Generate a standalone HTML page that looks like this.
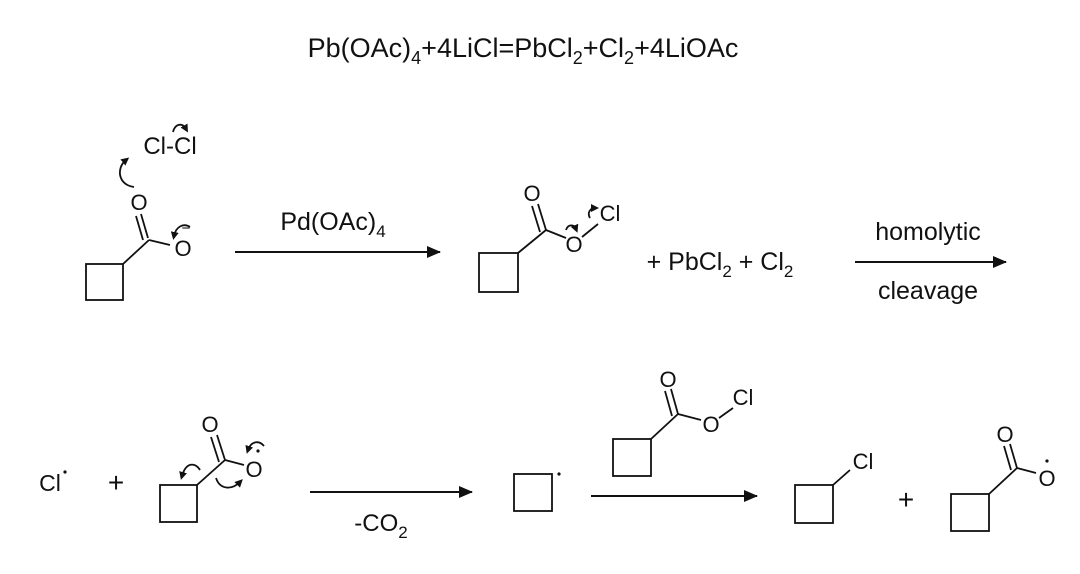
<!DOCTYPE html>
<html><head><style>
html,body{margin:0;padding:0;background:#fff;}
svg{display:block;}
text{font-family:"Liberation Sans",sans-serif;fill:#111;}
</style></head><body>
<svg width="1080" height="574" viewBox="0 0 1080 574" xmlns="http://www.w3.org/2000/svg">
<defs>
<marker id="ah" markerWidth="14" markerHeight="12" refX="13" refY="6" orient="auto" markerUnits="userSpaceOnUse">
<path d="M0,0 L14,6 L0,12 Z" fill="#111"/></marker>
<marker id="ch" markerWidth="8" markerHeight="8" refX="4" refY="4" orient="auto" markerUnits="userSpaceOnUse">
<path d="M0,0 L8,4 L0,8 Z" fill="#111"/></marker>
</defs>
<text x="523" y="57" font-size="27" text-anchor="middle">Pb(OAc)<tspan font-size="18" dy="7">4</tspan><tspan dy="-7">+4LiCl=PbCl</tspan><tspan font-size="18" dy="7">2</tspan><tspan dy="-7">+Cl</tspan><tspan font-size="18" dy="7">2</tspan><tspan dy="-7">+4LiOAc</tspan></text>

<!-- Molecule 1 -->
<g stroke="#111" stroke-width="1.8" fill="none">
<rect x="86" y="264" width="37" height="36"/>
<line x1="123" y1="264" x2="149" y2="240"/>
<line x1="148" y1="238" x2="141" y2="214"/>
<line x1="143" y1="240" x2="136" y2="216"/>
<line x1="149" y1="240" x2="170" y2="245"/>
<path d="M134,187 C118,185 116,168 126,160" marker-end="url(#ch)"/>
<path d="M173,132 C175,124 182,122 186,129" marker-end="url(#ch)"/>
<path d="M190,227 C184,223 176,226 174,236" marker-end="url(#ch)"/>
</g>
<text x="170" y="154" font-size="24" text-anchor="middle">Cl-Cl</text>
<text x="139" y="210" font-size="22" text-anchor="middle">O</text>
<text x="183" y="256" font-size="22" text-anchor="middle">O</text>
<text x="186" y="233" font-size="15" text-anchor="middle">−</text>

<!-- arrow 1 -->
<line x1="235" y1="252" x2="440" y2="252" stroke="#111" stroke-width="2" marker-end="url(#ah)"/>
<text x="333" y="230" font-size="25" text-anchor="middle">Pd(OAc)<tspan font-size="17" dy="7">4</tspan></text>

<!-- Molecule 2 -->
<g stroke="#111" stroke-width="1.8" fill="none">
<rect x="479" y="253" width="39" height="39"/>
<line x1="518" y1="253" x2="546" y2="230"/>
<line x1="546" y1="230" x2="538" y2="204"/>
<line x1="540" y1="232" x2="532" y2="206"/>
<line x1="546" y1="230" x2="566" y2="238"/>
<line x1="582" y1="237" x2="598" y2="224"/>
<path d="M566,230 C568,224 574,224 576,229" marker-end="url(#ch)"/>
<path d="M590,218 C587,213 590,208 595,208" marker-end="url(#ch)"/>
</g>
<text x="532" y="201" font-size="22" text-anchor="middle">O</text>
<text x="574" y="252" font-size="22" text-anchor="middle">O</text>
<text x="610" y="221" font-size="22" text-anchor="middle">Cl</text>

<text x="720" y="270" font-size="25" text-anchor="middle">+ PbCl<tspan font-size="17" dy="7">2</tspan><tspan dy="-7"> + Cl</tspan><tspan font-size="17" dy="7">2</tspan></text>

<!-- arrow 2 -->
<line x1="855" y1="262" x2="1006" y2="262" stroke="#111" stroke-width="2" marker-end="url(#ah)"/>
<text x="928" y="240" font-size="25" text-anchor="middle">homolytic</text>
<text x="928" y="299" font-size="25" text-anchor="middle">cleavage</text>

<!-- bottom row -->
<text x="50" y="491" font-size="23" text-anchor="middle">Cl</text>
<circle cx="65" cy="472" r="1.6" fill="#111"/>
<text x="116" y="492" font-size="28" text-anchor="middle">+</text>

<g stroke="#111" stroke-width="1.8" fill="none">
<rect x="160" y="485" width="37" height="37"/>
<line x1="197" y1="485" x2="225" y2="460"/>
<line x1="225" y1="460" x2="217" y2="435"/>
<line x1="219" y1="462" x2="211" y2="437"/>
<line x1="225" y1="460" x2="244" y2="465"/>
<path d="M200,470 C195,462 186,462 182,476" marker-end="url(#ch)"/>
<path d="M216,478 C220,490 232,490 240,482" marker-end="url(#ch)"/>
<path d="M264,446 C259,440 251,441 248,450" marker-end="url(#ch)"/>
</g>
<text x="210" y="432" font-size="22" text-anchor="middle">O</text>
<text x="254" y="477" font-size="22" text-anchor="middle">O</text>
<circle cx="258" cy="451" r="1.6" fill="#111"/>

<line x1="310" y1="492" x2="472" y2="492" stroke="#111" stroke-width="2" marker-end="url(#ah)"/>
<text x="381" y="531" font-size="24" text-anchor="middle">-CO<tspan font-size="17" dy="7">2</tspan></text>

<rect x="514" y="474" width="38" height="37" stroke="#111" stroke-width="1.8" fill="none"/>
<circle cx="559" cy="474" r="1.6" fill="#111"/>

<g stroke="#111" stroke-width="1.8" fill="none">
<rect x="613" y="439" width="38" height="37"/>
<line x1="651" y1="439" x2="678" y2="414"/>
<line x1="678" y1="414" x2="671" y2="389"/>
<line x1="672" y1="416" x2="665" y2="391"/>
<line x1="678" y1="414" x2="701" y2="420"/>
<line x1="719" y1="418" x2="733" y2="408"/>
</g>
<text x="668" y="387" font-size="22" text-anchor="middle">O</text>
<text x="711" y="432" font-size="22" text-anchor="middle">O</text>
<text x="743" y="405" font-size="22" text-anchor="middle">Cl</text>

<line x1="591" y1="496" x2="757" y2="496" stroke="#111" stroke-width="2" marker-end="url(#ah)"/>

<g stroke="#111" stroke-width="1.8" fill="none">
<rect x="795" y="485" width="38" height="38"/>
<line x1="833" y1="485" x2="850" y2="470"/>
<rect x="951" y="494" width="38" height="37"/>
<line x1="989" y1="494" x2="1017" y2="468"/>
<line x1="1017" y1="468" x2="1010" y2="444"/>
<line x1="1011" y1="470" x2="1004" y2="446"/>
<line x1="1017" y1="468" x2="1036" y2="473"/>
</g>
<text x="863" y="469" font-size="22" text-anchor="middle">Cl</text>
<text x="906" y="509" font-size="28" text-anchor="middle">+</text>
<text x="1005" y="442" font-size="22" text-anchor="middle">O</text>
<text x="1047" y="486" font-size="22" text-anchor="middle">O</text>
<circle cx="1047" cy="461" r="1.6" fill="#111"/>
</svg>
</body></html>
